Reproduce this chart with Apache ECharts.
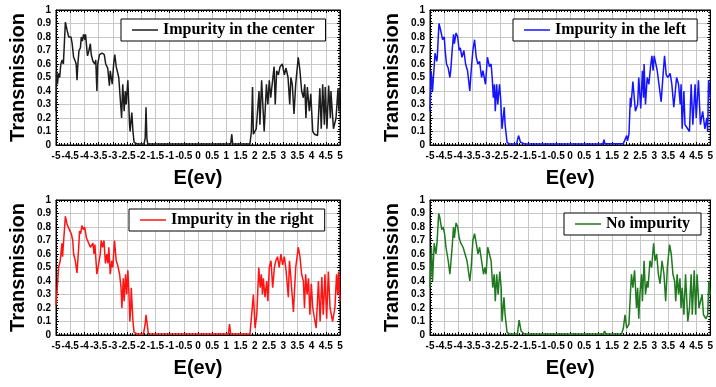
<!DOCTYPE html>
<html>
<head>
<meta charset="utf-8">
<script src="https://cdn.jsdelivr.net/npm/echarts@6/dist/echarts.min.js"></script>
<style>
html, body { margin: 0; padding: 0; background: #fff; }
#chart { width: 716px; height: 387px; }
</style>
</head>
<body>
<div id="chart"></div>
<script>
// transmission vs energy
var seriesNames = ['Impurity in the center', 'Impurity in the left', 'Impurity in the right', 'No impurity'];

var centerData = [[-5.0,0.25],[-4.98,0.55],[-4.95,0.45],[-4.91,0.53],[-4.87,0.5],[-4.83,0.6],[-4.78,0.63],[-4.74,0.6],[-4.67,0.91],[-4.61,0.85],[-4.55,0.8],[-4.47,0.8],[-4.43,0.75],[-4.38,0.65],[-4.32,0.62],[-4.29,0.6],[-4.26,0.48],[-4.23,0.6],[-4.19,0.7],[-4.14,0.72],[-4.11,0.8],[-4.07,0.77],[-4.03,0.82],[-3.98,0.78],[-3.96,0.82],[-3.91,0.7],[-3.89,0.66],[-3.84,0.7],[-3.79,0.75],[-3.76,0.67],[-3.7,0.62],[-3.63,0.6],[-3.6,0.63],[-3.56,0.4],[-3.53,0.6],[-3.47,0.67],[-3.38,0.68],[-3.3,0.67],[-3.25,0.6],[-3.18,0.57],[-3.12,0.44],[-3.09,0.55],[-3.02,0.45],[-2.97,0.6],[-2.93,0.67],[-2.88,0.58],[-2.83,0.58],[-2.79,0.5],[-2.74,0.35],[-2.69,0.2],[-2.65,0.45],[-2.6,0.25],[-2.56,0.4],[-2.53,0.3],[-2.47,0.48],[-2.41,0.15],[-2.39,0.1],[-2.35,0.2],[-2.33,0.24],[-2.29,0.1],[-2.25,0.02],[-2.15,0.008],[-1.9,0.008],[-1.86,0.05],[-1.83,0.28],[-1.8,0.05],[-1.77,0.008],[1.15,0.008],[1.19,0.08],[1.22,0.008],[1.4,0.008],[1.43,0.018],[1.46,0.008],[1.83,0.008],[1.88,0.1],[1.92,0.43],[1.95,0.08],[2.05,0.12],[2.1,0.12],[2.15,0.4],[2.18,0.15],[2.24,0.48],[2.33,0.1],[2.41,0.45],[2.46,0.3],[2.51,0.48],[2.56,0.35],[2.68,0.58],[2.72,0.3],[2.77,0.55],[2.83,0.52],[2.89,0.58],[2.97,0.6],[3.04,0.52],[3.1,0.57],[3.17,0.5],[3.23,0.3],[3.27,0.5],[3.32,0.45],[3.38,0.23],[3.44,0.45],[3.53,0.65],[3.59,0.55],[3.65,0.4],[3.71,0.35],[3.76,0.45],[3.8,0.2],[3.85,0.43],[3.92,0.25],[3.97,0.38],[4.04,0.1],[4.1,0.08],[4.21,0.07],[4.29,0.42],[4.34,0.12],[4.39,0.45],[4.45,0.15],[4.48,0.43],[4.54,0.12],[4.6,0.44],[4.66,0.2],[4.68,0.4],[4.77,0.12],[4.86,0.2],[4.9,0.2],[4.93,0.42],[4.96,0.25],[5.0,0.42]];

var leftData = [[-5.0,0.25],[-4.96,0.55],[-4.91,0.4],[-4.82,0.68],[-4.76,0.62],[-4.74,0.65],[-4.68,0.9],[-4.62,0.85],[-4.55,0.78],[-4.49,0.8],[-4.46,0.7],[-4.41,0.6],[-4.35,0.57],[-4.29,0.5],[-4.26,0.55],[-4.21,0.7],[-4.16,0.82],[-4.13,0.75],[-4.07,0.83],[-4.01,0.8],[-3.96,0.7],[-3.92,0.72],[-3.86,0.65],[-3.79,0.7],[-3.73,0.6],[-3.66,0.55],[-3.58,0.4],[-3.53,0.55],[-3.47,0.7],[-3.41,0.78],[-3.35,0.65],[-3.29,0.6],[-3.23,0.62],[-3.16,0.5],[-3.11,0.55],[-3.02,0.45],[-2.95,0.65],[-2.88,0.58],[-2.82,0.6],[-2.78,0.5],[-2.74,0.35],[-2.7,0.45],[-2.67,0.25],[-2.62,0.45],[-2.58,0.3],[-2.52,0.45],[-2.48,0.35],[-2.43,0.12],[-2.38,0.22],[-2.35,0.28],[-2.32,0.15],[-2.25,0.02],[-2.17,0.008],[-1.91,0.008],[-1.84,0.07],[-1.77,0.02],[-1.7,0.02],[-1.63,0.008],[1.17,0.008],[1.21,0.04],[1.24,0.01],[1.9,0.01],[1.96,0.02],[2.02,0.07],[2.05,0.03],[2.1,0.08],[2.15,0.35],[2.17,0.28],[2.24,0.47],[2.33,0.25],[2.41,0.3],[2.45,0.5],[2.52,0.27],[2.58,0.55],[2.62,0.35],[2.64,0.6],[2.69,0.3],[2.75,0.5],[2.81,0.45],[2.88,0.6],[2.92,0.66],[2.96,0.55],[3.0,0.66],[3.04,0.62],[3.11,0.55],[3.17,0.45],[3.25,0.32],[3.31,0.5],[3.37,0.66],[3.43,0.52],[3.49,0.5],[3.57,0.53],[3.63,0.45],[3.7,0.28],[3.8,0.5],[3.87,0.45],[3.93,0.3],[3.96,0.45],[4.0,0.12],[4.06,0.4],[4.1,0.15],[4.26,0.1],[4.32,0.45],[4.38,0.15],[4.46,0.45],[4.5,0.2],[4.58,0.48],[4.65,0.15],[4.73,0.25],[4.81,0.12],[4.88,0.2],[4.91,0.1],[4.94,0.48],[5.0,0.35]];

var rightData = [[-5.0,0.22],[-4.94,0.4],[-4.91,0.5],[-4.85,0.55],[-4.79,0.68],[-4.77,0.58],[-4.73,0.7],[-4.67,0.88],[-4.61,0.82],[-4.53,0.78],[-4.46,0.75],[-4.41,0.7],[-4.38,0.6],[-4.32,0.55],[-4.26,0.46],[-4.2,0.65],[-4.17,0.77],[-4.13,0.75],[-4.09,0.81],[-4.03,0.78],[-3.99,0.8],[-3.93,0.72],[-3.89,0.7],[-3.79,0.65],[-3.7,0.68],[-3.66,0.6],[-3.63,0.67],[-3.56,0.45],[-3.5,0.46],[-3.44,0.6],[-3.41,0.7],[-3.36,0.65],[-3.31,0.7],[-3.26,0.53],[-3.21,0.6],[-3.17,0.53],[-3.14,0.65],[-3.09,0.45],[-3.04,0.55],[-3.0,0.5],[-2.94,0.7],[-2.88,0.55],[-2.83,0.52],[-2.76,0.45],[-2.71,0.35],[-2.68,0.2],[-2.63,0.42],[-2.6,0.25],[-2.55,0.45],[-2.51,0.3],[-2.47,0.48],[-2.43,0.3],[-2.4,0.1],[-2.37,0.2],[-2.35,0.35],[-2.29,0.1],[-2.25,0.02],[-2.15,0.008],[-1.92,0.008],[-1.86,0.08],[-1.83,0.15],[-1.8,0.1],[-1.75,0.01],[-1.7,0.008],[1.07,0.008],[1.11,0.08],[1.15,0.008],[1.83,0.008],[1.89,0.02],[1.95,0.3],[2.01,0.05],[2.07,0.15],[2.14,0.5],[2.19,0.35],[2.23,0.45],[2.27,0.3],[2.3,0.42],[2.36,0.28],[2.42,0.4],[2.46,0.25],[2.51,0.5],[2.57,0.55],[2.63,0.35],[2.69,0.5],[2.74,0.55],[2.8,0.58],[2.86,0.5],[2.92,0.6],[2.98,0.52],[3.04,0.58],[3.1,0.48],[3.18,0.28],[3.22,0.55],[3.26,0.45],[3.36,0.17],[3.44,0.5],[3.53,0.65],[3.59,0.58],[3.65,0.45],[3.71,0.4],[3.75,0.2],[3.79,0.45],[3.84,0.3],[3.89,0.42],[3.94,0.15],[3.99,0.38],[4.04,0.2],[4.16,0.05],[4.24,0.4],[4.3,0.1],[4.36,0.43],[4.41,0.15],[4.47,0.45],[4.53,0.12],[4.59,0.47],[4.65,0.2],[4.74,0.1],[4.82,0.2],[4.88,0.45],[4.92,0.3],[4.95,0.47],[5.0,0.25]];

var noneData = [[-5.0,0.35],[-4.95,0.65],[-4.91,0.4],[-4.85,0.68],[-4.79,0.6],[-4.75,0.68],[-4.69,0.9],[-4.65,0.87],[-4.58,0.78],[-4.53,0.8],[-4.48,0.75],[-4.43,0.65],[-4.39,0.6],[-4.35,0.55],[-4.29,0.45],[-4.25,0.55],[-4.21,0.65],[-4.16,0.8],[-4.13,0.72],[-4.07,0.83],[-4.01,0.8],[-3.96,0.72],[-3.9,0.68],[-3.82,0.65],[-3.75,0.6],[-3.68,0.55],[-3.58,0.4],[-3.53,0.5],[-3.47,0.7],[-3.41,0.75],[-3.35,0.68],[-3.29,0.6],[-3.23,0.65],[-3.16,0.55],[-3.09,0.45],[-3.04,0.5],[-3.0,0.45],[-2.94,0.65],[-2.88,0.6],[-2.82,0.55],[-2.76,0.35],[-2.71,0.45],[-2.67,0.25],[-2.62,0.45],[-2.57,0.3],[-2.51,0.47],[-2.46,0.35],[-2.43,0.1],[-2.36,0.28],[-2.32,0.15],[-2.25,0.02],[-2.17,0.008],[-1.88,0.008],[-1.82,0.11],[-1.75,0.03],[-1.64,0.008],[1.19,0.008],[1.23,0.03],[1.27,0.008],[1.31,0.01],[1.84,0.01],[1.9,0.05],[1.96,0.15],[2.02,0.05],[2.1,0.08],[2.15,0.3],[2.19,0.45],[2.24,0.35],[2.3,0.48],[2.37,0.2],[2.41,0.35],[2.45,0.12],[2.49,0.3],[2.55,0.45],[2.58,0.25],[2.64,0.55],[2.69,0.3],[2.75,0.4],[2.78,0.35],[2.85,0.55],[2.91,0.5],[2.98,0.68],[3.03,0.55],[3.09,0.6],[3.15,0.45],[3.21,0.38],[3.28,0.55],[3.35,0.45],[3.41,0.25],[3.47,0.5],[3.55,0.67],[3.61,0.6],[3.67,0.45],[3.73,0.4],[3.77,0.25],[3.82,0.45],[3.87,0.3],[3.92,0.42],[3.96,0.2],[4.0,0.35],[4.06,0.15],[4.12,0.45],[4.2,0.1],[4.26,0.2],[4.32,0.45],[4.36,0.15],[4.43,0.48],[4.48,0.15],[4.53,0.45],[4.6,0.2],[4.67,0.2],[4.71,0.3],[4.76,0.15],[4.85,0.12],[4.91,0.15],[4.95,0.4],[5.0,0.3]];

var allData = [centerData, leftData, rightData, noneData];
var colors = ['#1c1c1c', '#1414ff', '#ff1414', '#1f7a1f'];

// panel layout (pixels)
var grids = [
    {left: 56, top: 10, width: 284, height: 135},
    {left: 430, top: 10, width: 283, height: 135},
    {left: 56, top: 200, width: 284, height: 135},
    {left: 430, top: 200, width: 283, height: 135}
];
var legendPos = [[121, 19], [513, 19], [129, 209], [564, 213]];

var sansBold = {fontFamily: 'Liberation Sans Narrow, Liberation Sans, Arial', fontWeight: 'bold', fontSize: 10, color: '#000'};
var frameTick = {show: true, inside: true, length: 3, lineStyle: {color: '#000'}};
var frameMinor = {show: true, splitNumber: 5, length: 2, lineStyle: {color: '#000'}};

var option = {
    backgroundColor: '#fff',
    animation: false,
    grid: [], xAxis: [], yAxis: [], legend: [], series: []
};

for (var i = 0; i < 4; i++) {
    option.grid.push({
        left: grids[i].left, top: grids[i].top, width: grids[i].width, height: grids[i].height,
        show: true, borderColor: '#000', borderWidth: 1, backgroundColor: '#fff'
    });
    option.xAxis.push({
        type: 'value', gridIndex: i, min: -5, max: 5, interval: 0.5,
        name: 'E(ev)', nameLocation: 'middle', nameGap: 23,
        nameTextStyle: {fontFamily: 'Liberation Sans, Arial', fontWeight: 'bold', fontSize: 20, color: '#000'},
        axisLine: {show: true, onZero: false, lineStyle: {color: '#000', width: 1}},
        axisTick: frameTick,
        minorTick: frameMinor,
        axisLabel: Object.assign({margin: 6}, sansBold),
        splitLine: {show: true, lineStyle: {color: '#c8c8c8', width: 1}}
    });
    option.yAxis.push({
        type: 'value', gridIndex: i, min: 0, max: 1, interval: 0.1,
        name: 'Transmission', nameLocation: 'middle', nameGap: 28, nameRotate: 90,
        nameTextStyle: {fontFamily: 'Liberation Sans, Arial', fontWeight: 'bold', fontSize: 20, color: '#000'},
        axisLine: {show: true, onZero: false, lineStyle: {color: '#000', width: 1}},
        axisTick: frameTick,
        minorTick: frameMinor,
        axisLabel: Object.assign({margin: 5}, sansBold),
        splitLine: {show: true, lineStyle: {color: '#c8c8c8', width: 1}}
    });
    option.legend.push({
        data: [seriesNames[i]],
        left: legendPos[i][0], top: legendPos[i][1],
        orient: 'horizontal',
        backgroundColor: '#fff', borderColor: '#000', borderWidth: 1, borderRadius: 0,
        padding: [3, 11, 3, 11],
        icon: 'rect',
        itemWidth: 26, itemHeight: 1.5,
        textStyle: {fontFamily: 'Liberation Serif, Times New Roman', fontWeight: 'bold', fontSize: 16, color: '#000'}
    });
    option.series.push({
        name: seriesNames[i], type: 'line', xAxisIndex: i, yAxisIndex: i,
        data: allData[i], symbol: 'none', smooth: false,
        lineStyle: {color: colors[i], width: 1.5},
        itemStyle: {color: colors[i]},
        z: 3
    });
}

// frame ticks on top and right edges
for (var j = 0; j < 4; j++) {
    option.xAxis.push({
        type: 'value', gridIndex: j, position: 'top', min: -5, max: 5, interval: 0.5,
        axisLine: {show: true, onZero: false, lineStyle: {color: '#000'}},
        axisTick: frameTick, minorTick: frameMinor,
        axisLabel: {show: false}, splitLine: {show: false}
    });
    option.yAxis.push({
        type: 'value', gridIndex: j, position: 'right', min: 0, max: 1, interval: 0.1,
        axisLine: {show: true, onZero: false, lineStyle: {color: '#000'}},
        axisTick: frameTick, minorTick: frameMinor,
        axisLabel: {show: false}, splitLine: {show: false}
    });
}

var chart = echarts.init(document.getElementById('chart'), null, {renderer: 'canvas'});
chart.setOption(option);
</script>
</body>
</html>
